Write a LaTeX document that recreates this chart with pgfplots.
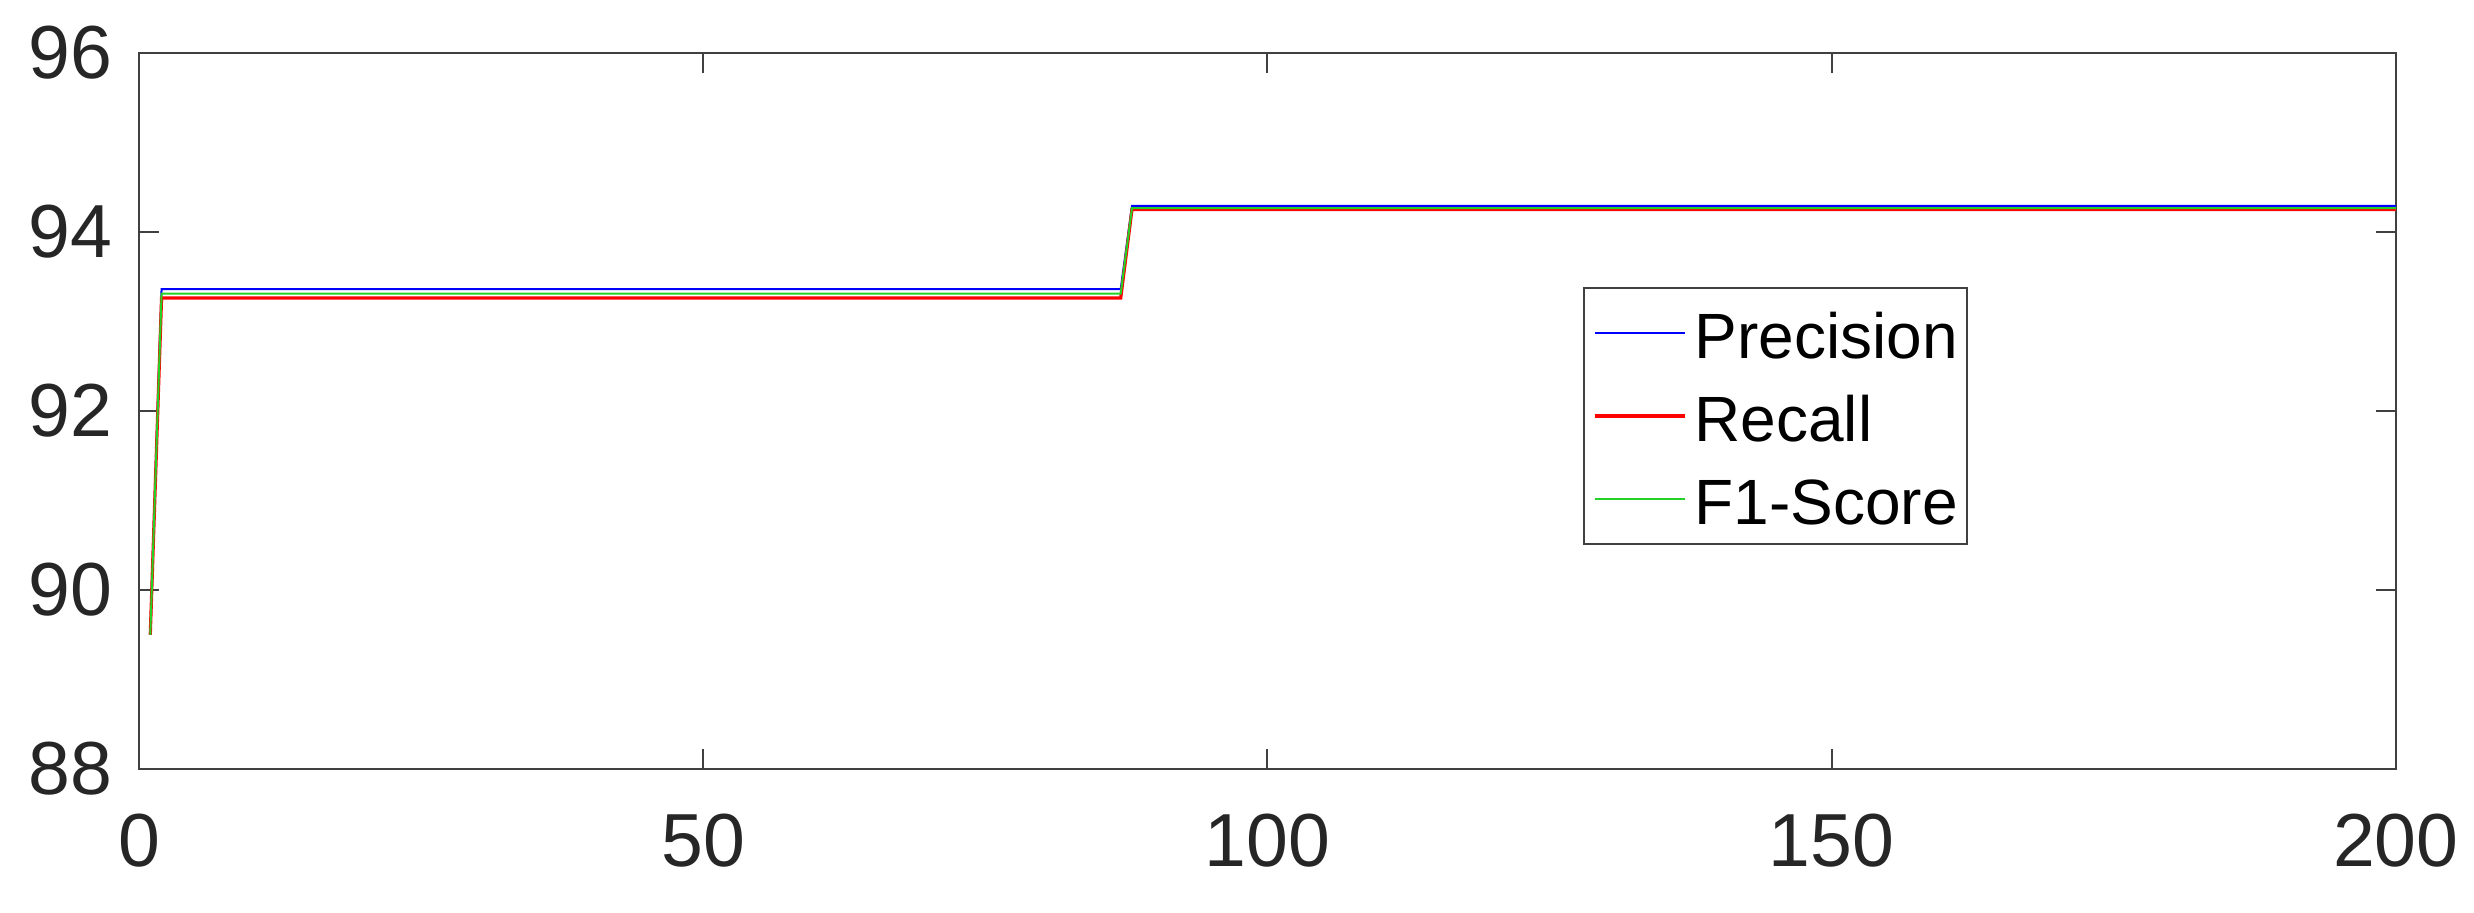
\documentclass[border=0pt]{standalone}
\usepackage{pgfplots}
\pgfplotsset{compat=1.18}
\usepackage{fontspec}
\setmainfont{Liberation Sans}
\definecolor{axgray}{gray}{0.25}
\definecolor{txtgray}{gray}{0.15}
\definecolor{mgreen}{rgb}{0.15,0.82,0.15}
\begin{document}
\begin{tikzpicture}
\useasboundingbox (-34.75pt,-35.75pt) rectangle (583.75pt,192.27pt);
\begin{axis}[
  at={(0pt,0pt)}, anchor=south west,
  scale only axis,
  width=564.2pt, height=179.1pt,
  xmin=0, xmax=200, ymin=88, ymax=96,
  xtick={0,50,100,150,200},
  ytick={88,90,92,94,96},
  tick align=inside,
  major tick length=5pt,
  axis line style={draw=axgray, line width=0.5pt},
  every tick/.style={draw=axgray, line width=0.5pt},
  /pgf/number format/assume math mode=true,
  tick label style={font=\fontsize{18.8}{22}\selectfont, text=txtgray},
  xticklabel style={inner sep=0pt, anchor=north, yshift=-11pt},
  yticklabel style={inner sep=0pt, anchor=east, xshift=-6.5pt},
  legend cell align=left,
  legend style={
    at={(0.640,0.673)}, anchor=north west,
    draw=axgray, line width=0.5pt,
    inner xsep=2.25pt, inner ysep=3.75pt,
    row sep=5.75pt, column sep=2pt,
    font=\fontsize{16}{19}\selectfont,
    nodes={inner sep=0pt, text height=14pt, text depth=1pt},
  },
  legend image code/.code={\draw[#1] (0pt,0pt) -- (22.5pt,0pt);},
]
\addplot[blue, line width=0.5pt] coordinates {(1,89.5) (2,93.36) (87,93.36) (88,94.29) (200,94.29)};
\addlegendentry{Precision}
\addplot[red, line width=0.8pt] coordinates {(1,89.5) (2,93.26) (87,93.26) (88,94.25) (200,94.25)};
\addlegendentry{Recall}
\addplot[mgreen, line width=0.5pt] coordinates {(1,89.5) (2,93.31) (87,93.31) (88,94.265) (200,94.265)};
\addlegendentry{F1-Score}
\end{axis}
\end{tikzpicture}
\end{document}
